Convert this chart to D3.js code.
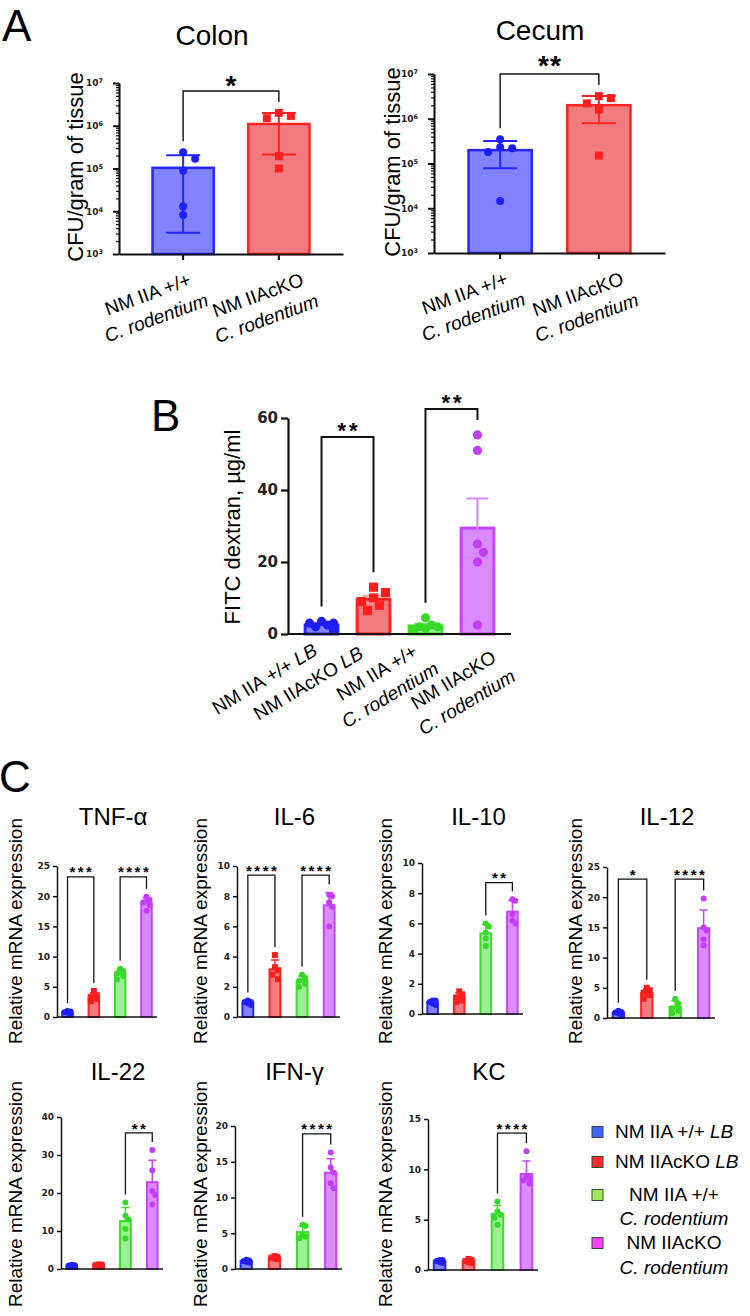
<!DOCTYPE html>
<html>
<head>
<meta charset="utf-8">
<script src="https://cdn.jsdelivr.net/npm/d3@7"></script>
<style>
body { margin: 0; background: #fff; }
</style>
</head>
<body>
<div id="fig"></div>
<script>
// ---------- data ----------

// Panel A: CFU / gram of tissue, one value per mouse
const cfuGroups = ["NM IIA +/+\nC. rodentium", "NM IIAcKO\nC. rodentium"];
const colonCFU = [[2.4e5, 1.7e5, 8.8e4, 1.3e4, 8.2e3], [1.7e6, 2.0e6, 1.5e6, 1.95e5, 1.0e5]];
const cecumCFU = [[3.5e5, 2.3e5, 2.2e5, 1.8e5, 1.45e4], [2.9e6, 3.2e6, 2.2e6, 1.6e6, 1.5e5]];
const cfuTicks = [1e3, 1e4, 1e5, 1e6, 1e7];
const colonSig = [{a: 0, b: 1, label: "*", top: 6.5e6}];
const cecumSig = [{a: 0, b: 1, label: "**", top: 1e7}];

// Panel B: FITC dextran, µg/ml
const groups = ["NM IIA +/+ LB", "NM IIAcKO LB", "NM IIA +/+\nC. rodentium", "NM IIAcKO\nC. rodentium"];
const fitc = [
  [3.5, 3, 3, 2.5, 2, 1],
  [13, 11.5, 10, 9, 8, 6.5],
  [4.5, 2.5, 2, 2, 1.5, 1],
  [55.3, 51, 22.7, 25, 20, 2.5]
];
const fitcTicks = [0, 20, 40, 60];
const fitcSig = [{a: 0, b: 1, label: "**", top: 54.7}, {a: 2, b: 3, label: "**", top: 62.5}];

// Panel C: relative mRNA expression
const cytokines = ["TNF-α", "IL-6", "IL-10", "IL-12", "IL-22", "IFN-γ", "KC"];
const tnf = [[0.6, 0.7, 0.8, 0.9, 1.0], [2.6, 3.0, 3.3, 3.6, 4.3], [6.2, 6.8, 7.2, 7.6, 8.0], [17.6, 18.5, 19.0, 19.4, 19.9]];
const il6 = [[0.8, 0.9, 1.0, 1.0, 1.1], [2.5, 2.8, 3.1, 3.3, 4.1], [2.0, 2.2, 2.4, 2.6, 2.8], [6.0, 7.3, 7.6, 8.0, 8.1]];
const il10 = [[0.6, 0.7, 0.8, 0.9, 0.9], [0.8, 0.9, 1.1, 1.3, 1.5], [4.5, 5.0, 5.4, 5.8, 6.0], [6.0, 6.2, 6.6, 7.5, 7.6]];
const il12 = [[0.6, 0.8, 0.9, 1.0, 1.2], [3.2, 3.8, 4.2, 4.6, 5.0], [0.8, 1.2, 1.6, 2.4, 3.2], [12.0, 13.0, 14.5, 15.0, 19.8]];
const il22 = [[0.7, 0.8, 0.9, 1.0, 1.1], [0.8, 0.9, 1.0, 1.1, 1.2], [8.0, 10.5, 13.0, 14.0, 17.5], [17.0, 19.5, 20.5, 26.0, 31.3]];
const ifng = [[0.9, 1.0, 1.1, 1.2, 1.3], [1.4, 1.5, 1.6, 1.7, 1.8], [4.3, 4.5, 4.8, 6.0, 6.2], [11.3, 12.0, 13.5, 14.2, 16.3]];
const kc = [[0.7, 0.8, 0.9, 1.0, 1.0], [0.7, 0.8, 0.9, 1.0, 1.1], [4.5, 5.2, 5.5, 5.8, 6.8], [8.6, 8.9, 9.1, 9.3, 11.8]];
const cytoData = [tnf, il6, il10, il12, il22, ifng, kc];
const cytoMax = [25, 10, 10, 25, 40, 20, 15];
const cytoTicks = [d3.range(0, 26, 5), d3.range(0, 11, 2), d3.range(0, 11, 2), d3.range(0, 26, 5),
                   d3.range(0, 41, 10), d3.range(0, 21, 5), d3.range(0, 16, 5)];
const cytoSig = [
  [{a: 0, b: 1, label: "***", top: 23.2}, {a: 2, b: 3, label: "****", top: 23.2}],
  [{a: 0, b: 1, label: "****", top: 9.4}, {a: 2, b: 3, label: "****", top: 9.4}],
  [{a: 2, b: 3, label: "**", top: 8.7}],
  [{a: 0, b: 1, label: "*", top: 23}, {a: 2, b: 3, label: "****", top: 23}],
  [{a: 2, b: 3, label: "**", top: 35.8}],
  [{a: 2, b: 3, label: "****", top: 18.9}],
  [{a: 2, b: 3, label: "****", top: 13.6}]
];

// ---------- styles ----------
const FONT = "'Liberation Sans', Arial, sans-serif";
const TICKFONT = "'DejaVu Sans', sans-serif";
const barFill = ["#8282ff", "#f27b80", "#9cef94", "#da8cff"];
const barLine = ["#2626ff", "#ff2424", "#3cdc28", "#c445ff"];
const dotCol = ["#1e1eff", "#ff1e1e", "#38d828", "#c43cff"];
const legendCol = ["#4262ff", "#ff2a2a", "#a4e65a", "#ff40ff"];

const svg = d3.select("#fig").append("svg")
    .attr("width", 750)
    .attr("height", 1316)
    .style("font-family", FONT)
    .style("background", "#fff");

// ---------- helpers ----------

// spread points sideways so they do not sit on top of each other
function swarm(vals, y, r, step, maxOff) {
  const pts = vals.map(v => ({v, py: y(v), dx: 0})).sort((p, q) => p.py - q.py);
  const cand = [0];
  for (let k = 1; k * step <= maxOff + 0.01; k++) cand.push(k * step, -k * step);
  const placed = [];
  pts.forEach(p => {
    let pick = null, bestD = -1, bestC = 0;
    for (const c of cand) {
      const d = placed.length ? d3.min(placed, q => Math.hypot(q.dx - c, q.py - p.py)) : Infinity;
      if (d >= 2 * r) { pick = c; break; }
      if (d > bestD) { bestD = d; bestC = c; }
    }
    p.dx = pick === null ? bestC : pick;
    placed.push(p);
  });
  return pts;
}

function marker(g, x, y, i, r) {
  if (i === 1) {
    g.append("rect").attr("x", x - r).attr("y", y - r).attr("width", 2 * r).attr("height", 2 * r)
      .attr("fill", dotCol[i]);
  } else {
    g.append("circle").attr("cx", x).attr("cy", y).attr("r", r).attr("fill", dotCol[i]);
  }
}

function stars(g, x, yc, label, fs, ls) {
  g.append("text")
    .attr("x", x + ls / 2)
    .attr("y", yc + 0.57 * fs)
    .attr("text-anchor", "middle")
    .style("font-size", fs + "px")
    .style("font-weight", "bold")
    .style("letter-spacing", ls + "px")
    .text(label);
}

function yLabel(text, x, cy, fs) {
  svg.append("text")
    .attr("transform", `translate(${x},${cy}) rotate(-90)`)
    .attr("text-anchor", "middle")
    .attr("dominant-baseline", "central")
    .style("font-size", fs + "px")
    .text(text);
}

function addRuns(el, line) {
  line.split(/(LB|C\. rodentium)/).filter(s => s).forEach(s => {
    el.append("tspan")
      .style("font-style", /^(LB|C\. rodentium)$/.test(s) ? "italic" : null)
      .text(s);
  });
}

// rotated, centred multi-line category label; (x, y) is where line 1 ends
function xLabel(g, x, y, angle, text, fs, lh) {
  const t = g.append("text")
    .attr("text-anchor", "middle")
    .style("font-size", fs + "px");
  const spans = text.split("\n").map((line, k) => {
    const tl = t.append("tspan").attr("x", 0).attr("y", k * lh);
    addRuns(tl, line);
    return tl;
  });
  const w1 = spans[0].node().getComputedTextLength();
  t.attr("transform", `translate(${x},${y}) rotate(${angle}) translate(${-w1 / 2},0)`);
}

function bracket(g, x, y, tops, s, gap, lw) {
  const xa = x(s.a) + x.bandwidth() / 2, xb = x(s.b) + x.bandwidth() / 2;
  const ya = y(tops[s.a]) - gap, yb = y(tops[s.b]) - gap, yt = y(s.top);
  g.append("path")
    .attr("d", `M${xa},${ya}V${yt}H${xb}V${yb}`)
    .attr("fill", "none")
    .attr("stroke", "#111")
    .attr("stroke-width", lw);
  return {xm: (xa + xb) / 2, yt};
}

function styleAxis(a, w, fs) {
  a.select(".domain").attr("stroke", "#111").attr("stroke-width", w);
  a.selectAll(".tick line").attr("stroke", "#111").attr("stroke-width", w);
  a.selectAll(".tick text")
    .attr("fill", "#222")
    .style("font-family", TICKFONT)
    .style("font-weight", "bold")
    .style("font-size", fs + "px");
}

// ---------- panel A (log scale) ----------
function logChart(o) {
  const g = svg.append("g");
  const x = d3.scaleBand().domain(d3.range(o.data.length)).range([o.x0, o.x1])
    .paddingInner(0.36).paddingOuter(0.35);
  const y = d3.scaleLog().domain([1e3, 1e7]).range([o.yBot, o.yTop]);
  const tops = [];

  o.data.forEach((vals, i) => {
    const m = d3.mean(vals), sd = d3.deviation(vals);
    const cx = x(i) + x.bandwidth() / 2;
    tops.push(Math.max(d3.max(vals), m + sd));
    g.append("rect")
      .attr("x", x(i)).attr("y", y(m))
      .attr("width", x.bandwidth()).attr("height", y(1e3) - y(m))
      .attr("fill", barFill[i]).attr("stroke", barLine[i]).attr("stroke-width", 2.5);
    const lo = Math.max(m - sd, 1e3);
    g.append("path")
      .attr("d", `M${cx},${y(lo)}V${y(m + sd)}M${cx - 17},${y(m + sd)}h34M${cx - 17},${y(lo)}h34`)
      .attr("stroke", barLine[i]).attr("stroke-width", 2).attr("fill", "none");
    swarm(vals, y, 4, 12, 14).forEach(p => marker(g, cx + p.dx, p.py, i, 4));
  });

  // minor ticks
  const minor = [];
  cfuTicks.slice(0, -1).forEach(t => d3.range(2, 10).forEach(k => minor.push(t * k)));
  g.append("g").attr("transform", `translate(${o.x0},0)`)
    .call(d3.axisLeft(y).tickValues(minor).tickSize(3).tickSizeOuter(0).tickFormat(""))
    .call(a => styleAxis(a, 1.2, 9));
  g.append("g").attr("transform", `translate(${o.x0},0)`)
    .call(d3.axisLeft(y).tickValues(cfuTicks).tickSize(6).tickSizeOuter(0).tickPadding(4).tickFormat(""))
    .call(a => styleAxis(a, 2, 9))
    .call(a => a.selectAll(".tick text").each(function(d) {
      const t = d3.select(this).text("10");
      t.append("tspan").attr("dy", "-0.45em").style("font-size", "6.5px").text(Math.round(Math.log10(d)));
      t.attr("dx", "-6px");
    }));
  g.append("g").attr("transform", `translate(0,${o.yBot})`)
    .call(d3.axisBottom(x).tickSize(6).tickSizeOuter(0).tickFormat(""))
    .call(a => styleAxis(a, 2, 9));

  o.sig.forEach(s => {
    const b = bracket(g, x, y, tops, s, 11, 1.4);
    stars(g, b.xm, b.yt - o.starUp, s.label, 28, 1);
  });

  const shift = [[9, 31], [26, 31]];
  cfuGroups.forEach((lab, i) => {
    xLabel(g, x(i) + x.bandwidth() / 2 + shift[i][0], o.yBot + shift[i][1], -20, lab, 19, 25);
  });

  g.append("text").attr("x", o.titleX).attr("y", o.titleY).attr("text-anchor", "middle")
    .style("font-size", "28px").text(o.title);
  yLabel("CFU/gram  of  tissue", o.labelX, o.labelY, 22);
}

logChart({x0: 119, x1: 343, yTop: 83, yBot: 254, data: colonCFU, sig: colonSig, starUp: 12,
          title: "Colon", titleX: 212, titleY: 45, labelX: 75, labelY: 167});
logChart({x0: 434, x1: 665, yTop: 74, yBot: 253, data: cecumCFU, sig: cecumSig, starUp: 15,
          title: "Cecum", titleX: 540, titleY: 40, labelX: 392, labelY: 162});

// ---------- linear bar charts (B and C) ----------
function barChart(o) {
  const g = svg.append("g");
  const x = d3.scaleBand().domain(d3.range(o.data.length)).range([o.x0, o.x1])
    .paddingInner(o.pi).paddingOuter(o.po);
  const y = d3.scaleLinear().domain([0, o.max]).range([o.yBot, o.yTop]);
  const tops = [];

  o.data.forEach((vals, i) => {
    const m = d3.mean(vals), sd = d3.deviation(vals);
    const e = o.sem ? sd / Math.sqrt(vals.length) : sd;
    const cx = x(i) + x.bandwidth() / 2;
    tops.push(Math.max(d3.max(vals), m + e));
    g.append("rect")
      .attr("x", x(i)).attr("y", y(m))
      .attr("width", x.bandwidth()).attr("height", y(0) - y(m))
      .attr("fill", barFill[i]).attr("stroke", barLine[i]).attr("stroke-width", o.barW);
    const lo = o.both ? m - e : m;
    let d = `M${cx},${y(lo)}V${y(m + e)}M${cx - o.cap / 2},${y(m + e)}h${o.cap}`;
    if (o.both) d += `M${cx - o.cap / 2},${y(lo)}h${o.cap}`;
    g.append("path").attr("d", d).attr("fill", "none")
      .attr("stroke", o.errCol[i]).attr("stroke-width", o.errW);
    swarm(vals, y, o.r, o.step, x.bandwidth() / 2 - 1).forEach(p => marker(g, cx + p.dx, p.py, i, o.r));
  });

  g.append("g").attr("transform", `translate(${o.x0},0)`)
    .call(d3.axisLeft(y).tickValues(o.ticks).tickSize(o.tick).tickSizeOuter(0).tickPadding(3))
    .call(a => styleAxis(a, o.axisW, o.tfs));
  g.append("line")
    .attr("x1", o.x0).attr("x2", o.x1).attr("y1", o.yBot).attr("y2", o.yBot)
    .attr("stroke", "#111").attr("stroke-width", o.axisW);

  o.sig.forEach(s => {
    const b = bracket(g, x, y, tops, s, o.gap, o.sigW);
    stars(g, b.xm, b.yt - o.starUp, s.label, o.sfs, o.sls);
  });
  return {g, x, y};
}

// ---------- panel B ----------
const bChart = barChart({
  x0: 288, x1: 511, yTop: 418, yBot: 634, max: 60, ticks: fitcTicks, data: fitc, sig: fitcSig,
  pi: 0.37, po: 0.33, barW: 3, sem: true, both: true, cap: 22, errW: 2,
  errCol: ["#6a6aff", "#f9a3a6", "#6fe260", "#d486ff"],
  r: 4.6, step: 6, tick: 7, axisW: 2.2, tfs: 15, gap: 15, sigW: 2, starUp: 12, sfs: 22, sls: 3
});
const bLabelShift = [[-3, 20], [-9, 23], [-7, 21], [20, 27]];
groups.forEach((lab, i) => {
  const cx = bChart.x(i) + bChart.x.bandwidth() / 2;
  xLabel(bChart.g, cx + bLabelShift[i][0], 634 + bLabelShift[i][1], -31, lab, 19, 26);
});
yLabel("FITC  dextran,  µg/ml", 232, 527, 22);

// ---------- panel C ----------
const cLayout = [
  {x0: 57, x1: 157, yTop: 866, yBot: 1017, lx: 15, ly: 931, ty: 825},
  {x0: 237, x1: 340, yTop: 866, yBot: 1017, lx: 200, ly: 931, ty: 825},
  {x0: 422, x1: 523, yTop: 863, yBot: 1014, lx: 385, ly: 931, ty: 825},
  {x0: 607, x1: 715, yTop: 867, yBot: 1018, lx: 575, ly: 931, ty: 825},
  {x0: 61, x1: 163, yTop: 1117, yBot: 1269, lx: 15, ly: 1194, ty: 1080},
  {x0: 235, x1: 342, yTop: 1126, yBot: 1269, lx: 200, ly: 1194, ty: 1080},
  {x0: 428, x1: 538, yTop: 1119, yBot: 1270, lx: 385, ly: 1194, ty: 1080}
];
cytokines.forEach((name, k) => {
  const L = cLayout[k];
  barChart({
    x0: L.x0, x1: L.x1, yTop: L.yTop, yBot: L.yBot, max: cytoMax[k], ticks: cytoTicks[k],
    data: cytoData[k], sig: cytoSig[k],
    pi: 0.6, po: 0.2, barW: 2, sem: false, both: false, cap: 8, errW: 1.5, errCol: barLine,
    r: 3, step: 3, tick: 4, axisW: 1.5, tfs: 9, gap: 8, sigW: 1.3, starUp: 8, sfs: 15, sls: 2.5
  });
  svg.append("text").attr("x", (L.x0 + L.x1) / 2 + 6).attr("y", L.ty).attr("text-anchor", "middle")
    .style("font-size", "24px").text(name);
  yLabel("Relative mRNA expression", L.lx, L.ly, 19);
});

// legend
const leg = svg.append("g");
const legY = [[1132], [1162], [1195, 1219], [1243, 1268]];
groups.forEach((lab, i) => {
  leg.append("rect").attr("x", 592).attr("y", legY[i][0] - 5.5).attr("width", 11).attr("height", 11)
    .attr("fill", legendCol[i]).attr("stroke", "#2f4a3a").attr("stroke-width", 1);
  const lines = lab.split("\n");
  lines.forEach((line, k) => {
    const t = leg.append("text")
      .attr("x", lines.length > 1 ? 674 : 615)
      .attr("y", legY[i][k] + 6)
      .attr("text-anchor", lines.length > 1 ? "middle" : "start")
      .style("font-size", "19px");
    addRuns(t, line);
  });
});

// panel letters
[["A", 2, 41], ["B", 151, 431], ["C", -1, 792]].forEach(([t, x, y]) => {
  svg.append("text").attr("x", x).attr("y", y).style("font-size", "44px").text(t);
});
</script>
</body>
</html>
